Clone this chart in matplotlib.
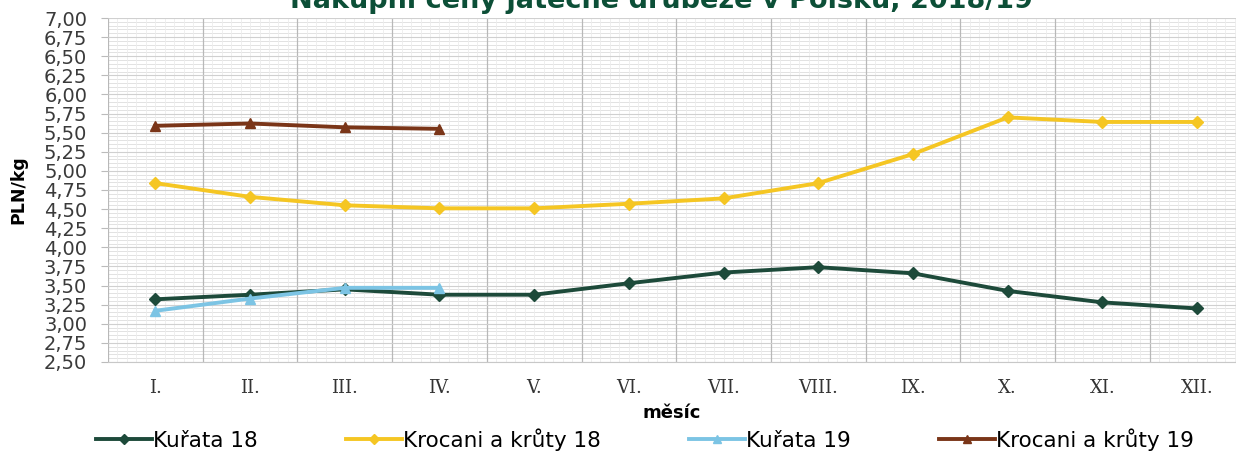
import matplotlib
matplotlib.use("Agg")
import matplotlib.pyplot as plt
import numpy as np
from matplotlib.ticker import MultipleLocator, FixedLocator

# Data
months = ['I.', 'II.', 'III.', 'IV.', 'V.', 'VI.', 'VII.', 'VIII.', 'IX.', 'X.', 'XI.', 'XII.']
kurata_18 = [3.32, 3.38, 3.45, 3.38, 3.38, 3.53, 3.67, 3.74, 3.66, 3.43, 3.28, 3.20]
krocani_18 = [4.84, 4.66, 4.55, 4.51, 4.51, 4.57, 4.64, 4.84, 5.22, 5.70, 5.64, 5.64]
kurata_19 = [3.17, 3.33, 3.47, 3.47]
krocani_19 = [5.59, 5.62, 5.57, 5.55]

yticks = np.arange(2.5, 7.01, 0.25)

fig = plt.figure(figsize=(12.36, 4.57), dpi=100)
ax = fig.add_axes([0.0874, 0.2079, 0.9126, 0.7527])

x18 = np.arange(len(months))
x19 = np.arange(len(kurata_19))

ax.plot(x18, kurata_18, color='#1d4a3a', lw=2.8, marker='D', ms=6, label='Kuřata 18', zorder=4)
ax.plot(x18, krocani_18, color='#f5c623', lw=2.8, marker='D', ms=6, label='Krocani a krůty 18', zorder=3)
ax.plot(x19, kurata_19, color='#7cc4e4', lw=2.8, marker='^', ms=7, label='Kuřata 19', zorder=5)
ax.plot(x19, krocani_19, color='#7a3518', lw=2.8, marker='^', ms=7, label='Krocani a krůty 19', zorder=5)

ax.set_ylim(2.5, 7.0)
ax.set_xlim(-0.5, -0.5 + (1236 - 108) / 94.7)

ax.set_yticks(yticks)
ax.set_yticklabels([f'{v:.2f}'.replace('.', ',') for v in yticks], fontsize=14, color='#3a3a3a')
ax.yaxis.set_minor_locator(MultipleLocator(0.05))
ax.set_xticks(x18)
ax.set_xticklabels(months, fontsize=13, family='DejaVu Serif', color='#333333')
ax.xaxis.set_minor_locator(FixedLocator(np.arange(-0.5, 12, 1.0)))
ax.tick_params(axis='x', which='both', length=0, pad=12)
ax.tick_params(axis='y', which='major', length=5, color='#bbbbbb', pad=10)
ax.tick_params(axis='y', which='minor', length=0)

# dense background grid
for yv in np.arange(2.5, 7.001, 0.05):
    ax.axhline(yv, color='#e2e2e2', lw=0.7, zorder=0)
for xv in np.arange(-0.5, 12, 0.1):
    ax.axvline(xv, color='#ececec', lw=0.6, zorder=0)
ax.grid(True, which='major', axis='y', color='#d0d0d0', lw=0.8, zorder=1)
ax.grid(True, which='minor', axis='x', color='#b8b8b8', lw=0.9, zorder=1)
ax.grid(False, which='major', axis='x')

for s in ax.spines.values():
    s.set_visible(False)
ax.spines['bottom'].set_visible(True)
ax.spines['bottom'].set_color('#c8c8c8')

ax.set_ylabel('PLN/kg', fontsize=12.5, fontweight='bold', labelpad=12)
ax.set_xlabel('měsíc', fontsize=13, fontweight='bold', labelpad=5)

fig.text(0.535, 1 - 8 / 457, 'Nákupní ceny jatečné drůbeže v Polsku, 2018/19',
         ha='center', va='baseline', fontsize=19.5, fontweight='bold', color='#0c4f37')

fig.legend(loc='upper left', bbox_to_anchor=(96 / 1236, 1 - 428 / 457), ncol=4, frameon=False,
           fontsize=15.5, handlelength=2.6, handletextpad=0.05, columnspacing=4.1,
           markerscale=0.8, borderpad=0, borderaxespad=0)

fig.savefig('out.png', dpi=100)
